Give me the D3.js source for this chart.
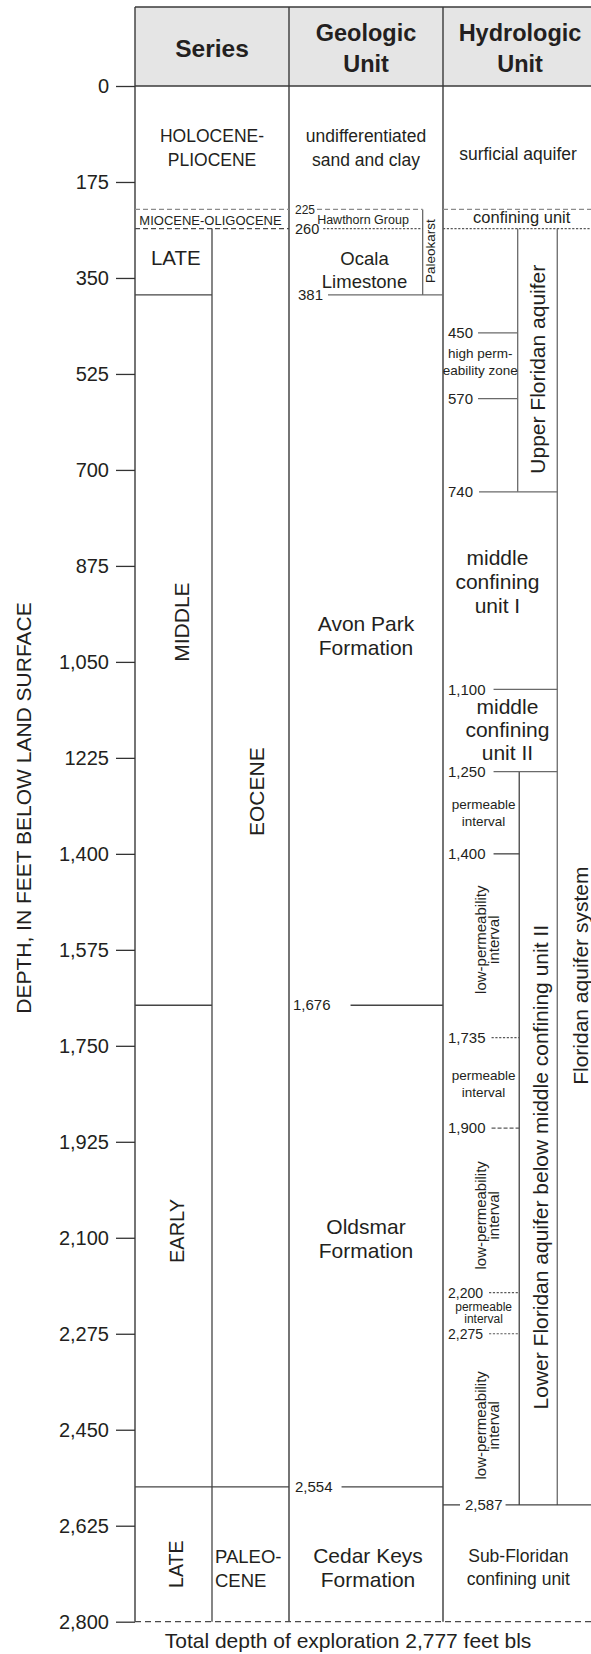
<!DOCTYPE html>
<html>
<head>
<meta charset="utf-8">
<script src="https://cdn.jsdelivr.net/npm/d3@7"></script>
<style>
  html, body { margin: 0; padding: 0; background: #fff; }
  svg { display: block; font-family: "Liberation Sans", Arial, Helvetica, sans-serif; }
</style>
</head>
<body>
<svg id="chart" width="591" height="1654"></svg>
<script>
// ---------------- data ----------------
const maxDepth = 2800;
const depthTicks = [0, 175, 350, 525, 700, 875, 1050, 1225, 1400, 1575, 1750, 1925, 2100, 2275, 2450, 2625, 2800];
const depthTickLabels = ["0", "175", "350", "525", "700", "875", "1,050", "1225", "1,400", "1,575",
                         "1,750", "1,925", "2,100", "2,275", "2,450", "2,625", "2,800"];
const axisTitle = "DEPTH, IN FEET BELOW LAND SURFACE";
const footnote = "Total depth of exploration 2,777 feet bls";

const columnKeys = ["series", "geologic", "hydrologic"];
const columnTitles = [["Series"], ["Geologic", "Unit"], ["Hydrologic", "Unit"]];

// Series (epoch / period) intervals, depths in feet
const seriesUnits = [
  { lines: ["HOLOCENE-", "PLIOCENE"], top: 0, base: 225 },
  { lines: ["MIOCENE-OLIGOCENE"], top: 225, base: 260 },
  { lines: ["LATE"], top: 260, base: 381 },
  { lines: ["MIDDLE"], top: 381, base: 1676 },
  { lines: ["EARLY"], top: 1676, base: 2554 },
  { lines: ["LATE"], top: 2554, base: 2800 },
  { lines: ["EOCENE"], top: 260, base: 2554 },
  { lines: ["PALEO-", "CENE"], top: 2554, base: 2800 }
];

// Geologic units
const geologicUnits = [
  { lines: ["undifferentiated", "sand and clay"], top: 0, base: 225 },
  { lines: ["Hawthorn Group"], top: 225, base: 260 },
  { lines: ["Ocala", "Limestone"], top: 260, base: 381 },
  { lines: ["Paleokarst"], top: 225, base: 381 },
  { lines: ["Avon Park", "Formation"], top: 381, base: 1676 },
  { lines: ["Oldsmar", "Formation"], top: 1676, base: 2554 },
  { lines: ["Cedar Keys", "Formation"], top: 2554, base: 2800 }
];
const geologicContacts = [
  { depth: 225, label: "225" },
  { depth: 260, label: "260" },
  { depth: 381, label: "381" },
  { depth: 1676, label: "1,676" },
  { depth: 2554, label: "2,554" }
];

// Hydrologic units
const hydrologicUnits = [
  { lines: ["surficial aquifer"], top: 0, base: 225 },
  { lines: ["confining unit"], top: 225, base: 260 },
  { lines: ["Upper Floridan aquifer"], top: 260, base: 740 },
  { lines: ["high perm-", "eability zone"], top: 450, base: 570 },
  { lines: ["middle", "confining", "unit I"], top: 740, base: 1100 },
  { lines: ["middle", "confining", "unit II"], top: 1100, base: 1250 },
  { lines: ["Lower Floridan aquifer below middle confining unit II"], top: 1250, base: 2587 },
  { lines: ["Floridan aquifer system"], top: 260, base: 2587 },
  { lines: ["Sub-Floridan", "confining unit"], top: 2587, base: 2800 }
];
const permeabilityIntervals = [
  { lines: ["permeable", "interval"], top: 1250, base: 1400 },
  { lines: ["low-permeability", "interval"], top: 1400, base: 1735 },
  { lines: ["permeable", "interval"], top: 1735, base: 1900 },
  { lines: ["low-permeability", "interval"], top: 1900, base: 2200 },
  { lines: ["permeable", "interval"], top: 2200, base: 2275 },
  { lines: ["low-permeability", "interval"], top: 2275, base: 2587 }
];
const hydrologicContacts = [
  { depth: 450, label: "450" },
  { depth: 570, label: "570" },
  { depth: 740, label: "740" },
  { depth: 1100, label: "1,100" },
  { depth: 1250, label: "1,250" },
  { depth: 1400, label: "1,400" },
  { depth: 1735, label: "1,735" },
  { depth: 1900, label: "1,900" },
  { depth: 2200, label: "2,200" },
  { depth: 2275, label: "2,275" },
  { depth: 2587, label: "2,587" }
];

// ---------------- scales & layout ----------------
const svg = d3.select("#chart");
const ink = "#231f20";
const headerTop = 7;
const y = d3.scaleLinear().domain([0, maxDepth]).range([86, 1621.7]);
const x = d3.scaleBand().domain(columnKeys).range([135, 597]);
const bw = x.bandwidth();
const xs = x("series"), xg = x("geologic"), xh = x("hydrologic");

const lane = {
  series: [xs, xs + bw],
  epoch: [xs, xs + bw / 2],
  period: [xs + bw / 2, xs + bw],
  geologic: [xg, xg + bw],
  karst: [xg + bw * 0.868, xg + bw],
  hydrologic: [xh, xh + bw],
  unitLeft: [xh, xh + bw * 0.485],
  upperAquifer: [xh + bw * 0.485, xh + bw * 0.742],
  intervals: [xh, xh + bw * 0.495],
  lowerAquifer: [xh + bw * 0.495, xh + bw * 0.742],
  unitWide: [xh, xh + bw * 0.742],
  system: [xh + bw * 0.742, xh + bw]
};
const laneMid = k => (lane[k][0] + lane[k][1]) / 2;
const mid = u => (y(u.top) + y(u.base)) / 2;

const strokes = {
  frame:   { stroke: "#3a3a3a", width: 1.4, dash: null },
  solid:   { stroke: "#444", width: 1.3, dash: null },
  thin:    { stroke: "#6a6a6a", width: 1.3, dash: null },
  dashLt:  { stroke: "#8c8c8c", width: 1.2, dash: "5,3" },
  dashDk:  { stroke: "#4a4a4a", width: 1.2, dash: "5,3" },
  dotted:  { stroke: "#5a5a5a", width: 1.1, dash: "2.2,1.6" },
  dashSm:  { stroke: "#5a5a5a", width: 1.1, dash: "4,2" },
  bottom:  { stroke: "#4a4a4a", width: 1.3, dash: "6,4" }
};

const lines = svg.append("g").attr("class", "lines");
function seg(x1, y1, x2, y2, s) {
  const st = strokes[s];
  lines.append("line")
    .attr("x1", x1).attr("y1", y1).attr("x2", x2).attr("y2", y2)
    .attr("stroke", st.stroke).attr("stroke-width", st.width)
    .attr("stroke-dasharray", st.dash);
}
const hline = (d, x1, x2, s) => seg(x1, y(d), x2, y(d), s);
const vline = (xx, d1, d2, s) => seg(xx, y(d1), xx, y(d2), s);

const texts = svg.append("g").attr("class", "texts").attr("fill", ink);
// multi-line text whose cap-height block is centred on (cx, cy)
function label(linesArr, cx, cy, o = {}) {
  const size = o.size || 17.5, lh = o.lh || size * 1.3;
  const n = linesArr.length;
  const grp = texts.append("g").attr("transform", `translate(${cx},${cy})` + (o.rotate ? " rotate(-90)" : ""));
  const t = grp.append("text")
    .attr("font-size", size)
    .attr("font-weight", o.weight || null)
    .attr("text-anchor", o.anchor || "middle");
  linesArr.forEach((s, i) => {
    t.append("tspan").attr("x", 0)
      .attr("y", (i - (n - 1) / 2) * lh + 0.35 * size)
      .text(s);
  });
  return t;
}

// ---------------- header ----------------
svg.insert("rect", ":first-child")
  .attr("x", xs).attr("y", headerTop)
  .attr("width", bw * 3).attr("height", y(0) - headerTop)
  .attr("fill", "#e5e5e5");
hline(0, xs, xs + bw * 3, "frame");
seg(xs, headerTop, xs + bw * 3, headerTop, "frame");
columnKeys.forEach((k, i) => {
  seg(x(k), headerTop, x(k), y(maxDepth), "frame");
  label(columnTitles[i], x(k) + bw / 2, (headerTop + y(0)) / 2 + 1.5,
        { size: i === 0 ? 24.5 : 23.5, lh: 31, weight: "bold" });
});

// ---------------- depth axis ----------------
const axis = d3.axisLeft(y)
  .tickValues(depthTicks)
  .tickFormat((d, i) => depthTickLabels[i])
  .tickSize(19)
  .tickPadding(7);
const ax = svg.append("g").attr("transform", `translate(${xs},0)`).call(axis);
ax.select(".domain").remove();
ax.selectAll(".tick line").attr("stroke", "#333").attr("stroke-width", 1.3);
ax.selectAll(".tick text").attr("fill", ink).attr("font-size", 20)
  .attr("font-family", "\"Liberation Sans\", Arial, sans-serif");

label([axisTitle], 23.5, 808, { size: 21, rotate: true });

// ---------------- series column ----------------
hline(seriesUnits[0].base, lane.series[0], lane.series[1], "dashLt");
hline(seriesUnits[1].base, lane.series[0], lane.series[1], "dashDk");
hline(seriesUnits[2].base, lane.epoch[0], lane.epoch[1], "solid");
hline(seriesUnits[3].base, lane.epoch[0], lane.epoch[1], "solid");
hline(seriesUnits[6].base, lane.series[0], lane.series[1], "solid");
vline(lane.period[0], seriesUnits[6].top, maxDepth, "solid");

label(seriesUnits[0].lines, laneMid("series"), mid(seriesUnits[0]), { size: 17.5, lh: 23.5 });
label(seriesUnits[1].lines, laneMid("series") - 1.5, mid(seriesUnits[1]) + 1, { size: 13 });
label(seriesUnits[2].lines, laneMid("epoch") + 2.3, mid(seriesUnits[2]) - 4, { size: 20.5 });
label(seriesUnits[3].lines, laneMid("epoch") + 8, mid(seriesUnits[3]) - 28, { size: 21, rotate: true });
label(seriesUnits[4].lines, laneMid("epoch") + 3, mid(seriesUnits[4]) - 15, { size: 20, rotate: true });
label(seriesUnits[5].lines, laneMid("epoch") + 3, mid(seriesUnits[5]) + 10, { size: 19.5, rotate: true });
label(seriesUnits[6].lines, laneMid("period") + 6, mid(seriesUnits[6]) - 66, { size: 21, rotate: true });
label(seriesUnits[7].lines, lane.period[0] + 3, mid(seriesUnits[7]) + 14, { size: 18.5, lh: 24, anchor: "start" });

// ---------------- geologic column ----------------
vline(lane.karst[0], geologicUnits[3].top, geologicUnits[3].base, "thin");

const gStyle = [
  { size: 12,   gap: 2,  end: lane.karst[0],    s: "dashLt", dx: 6 },
  { size: 14.5, gap: 4,  end: lane.karst[0],    s: "dotted", dx: 6 },
  { size: 15,   gap: 5,  end: lane.geologic[1], s: "thin",   dx: 9 },
  { size: 15,   gap: 20, end: lane.geologic[1], s: "solid",  dx: 4 },
  { size: 15,   gap: 9,  end: lane.geologic[1], s: "solid",  dx: 6 }
];
geologicContacts.forEach((c, i) => {
  const st = gStyle[i];
  const t = texts.append("text").attr("x", xg + st.dx).attr("y", y(c.depth) + 0.35 * st.size)
    .attr("font-size", st.size).text(c.label);
  const w = t.node().getComputedTextLength();
  hline(c.depth, xg + st.dx + w + st.gap, st.end, st.s);
});

label(geologicUnits[0].lines, laneMid("geologic"), mid(geologicUnits[0]), { size: 17.5, lh: 23.5 });
label(geologicUnits[1].lines, laneMid("geologic") - 3, mid(geologicUnits[1]) + 0.5, { size: 12.5 });
label(geologicUnits[2].lines, laneMid("geologic") - 1.5, mid(geologicUnits[2]) + 8, { size: 18.5, lh: 23 });
label(geologicUnits[3].lines, laneMid("karst") - 2.5, mid(geologicUnits[3]) - 1, { size: 13.5, rotate: true });
label(geologicUnits[4].lines, laneMid("geologic"), mid(geologicUnits[4]) - 14, { size: 21, lh: 24 });
label(geologicUnits[5].lines, laneMid("geologic"), mid(geologicUnits[5]) - 7, { size: 21, lh: 24 });
label(geologicUnits[6].lines, laneMid("geologic") + 2, mid(geologicUnits[6]) + 13, { size: 21, lh: 24 });

// ---------------- hydrologic column ----------------
hline(hydrologicUnits[0].base, lane.hydrologic[0], lane.hydrologic[1], "dashLt");
hline(hydrologicUnits[1].base, lane.hydrologic[0], lane.hydrologic[1], "dotted");
vline(lane.upperAquifer[0], hydrologicUnits[2].top, hydrologicUnits[2].base, "thin");
vline(lane.system[0], hydrologicUnits[7].top, hydrologicUnits[7].base, "thin");
vline(lane.lowerAquifer[0], hydrologicUnits[6].top, hydrologicUnits[6].base, "solid");

const hStyle = [
  { size: 15, gap: 5, end: lane.upperAquifer[0], s: "thin" },
  { size: 15, gap: 5, end: lane.upperAquifer[0], s: "thin" },
  { size: 15, gap: 6, end: lane.system[0],       s: "thin" },
  { size: 15, gap: 8, end: lane.system[0],       s: "thin" },
  { size: 15, gap: 8, end: lane.system[0],       s: "thin" },
  { size: 15, gap: 8, end: lane.lowerAquifer[0], s: "solid" },
  { size: 15, gap: 6, end: lane.lowerAquifer[0], s: "dotted" },
  { size: 15, gap: 6, end: lane.lowerAquifer[0], s: "dashSm" },
  { size: 14, gap: 6, end: lane.lowerAquifer[0], s: "dotted" },
  { size: 14, gap: 6, end: lane.lowerAquifer[0], s: "dotted" },
  { size: 15 }
];
hydrologicContacts.forEach((c, i) => {
  const last = i === hydrologicContacts.length - 1;
  const st = hStyle[i];
  const lx = last ? xh + 22 : xh + 5;
  const t = texts.append("text").attr("x", lx).attr("y", y(c.depth) + 0.35 * st.size)
    .attr("font-size", st.size).text(c.label);
  const w = t.node().getComputedTextLength();
  if (last) {
    hline(c.depth, xh, lx - 5, "solid");
    hline(c.depth, lx + w + 3, lane.hydrologic[1], "solid");
  } else {
    hline(c.depth, lx + w + st.gap, st.end, st.s);
  }
});

label(hydrologicUnits[0].lines, laneMid("hydrologic") - 2, mid(hydrologicUnits[0]) + 6, { size: 17.5 });
label(hydrologicUnits[1].lines, laneMid("hydrologic") + 1.7, mid(hydrologicUnits[1]) - 1.5, { size: 16.5 });
label(hydrologicUnits[2].lines, laneMid("upperAquifer") + 0.5, mid(hydrologicUnits[2]) + 9, { size: 21, rotate: true });
label(hydrologicUnits[3].lines, laneMid("unitLeft"), mid(hydrologicUnits[3]) - 4, { size: 13.5, lh: 17 });
label(hydrologicUnits[4].lines, laneMid("unitWide") - 2.7, mid(hydrologicUnits[4]) - 9, { size: 21, lh: 24 });
label(hydrologicUnits[5].lines, laneMid("unitWide") + 7.3, mid(hydrologicUnits[5]) - 1, { size: 21, lh: 23 });
label(hydrologicUnits[6].lines, laneMid("lowerAquifer") + 2.8, mid(hydrologicUnits[6]) + 29, { size: 21, rotate: true });
label(hydrologicUnits[7].lines, laneMid("system") + 3.8, mid(hydrologicUnits[7]) + 109, { size: 21, rotate: true });
label(hydrologicUnits[8].lines, laneMid("hydrologic") - 1.7, mid(hydrologicUnits[8]) + 4, { size: 17.5, lh: 23.5 });

// permeable intervals get a horizontal label, low-permeability ones a rotated one
const pOffsets = [0, -6, 1, 5, 0, 6];
permeabilityIntervals.forEach((p, i) => {
  const low = p.lines[0].startsWith("low");
  const span = y(p.base) - y(p.top);
  if (low) {
    label(p.lines, laneMid("intervals") + 6, mid(p) + pOffsets[i], { size: 15, lh: 13.5, rotate: true });
  } else if (span < 60) {
    label(p.lines, laneMid("intervals") + 2.5, mid(p) + pOffsets[i], { size: 12, lh: 12 });
  } else {
    label(p.lines, laneMid("intervals") + 2.5, mid(p) + pOffsets[i], { size: 13.5, lh: 16.5 });
  }
});

// ---------------- base of section ----------------
hline(maxDepth, xs, xs + bw * 3, "bottom");
texts.append("text")
  .attr("x", 348).attr("y", 1648)
  .attr("text-anchor", "middle")
  .attr("font-size", 21)
  .text(footnote);
</script>
</body>
</html>
